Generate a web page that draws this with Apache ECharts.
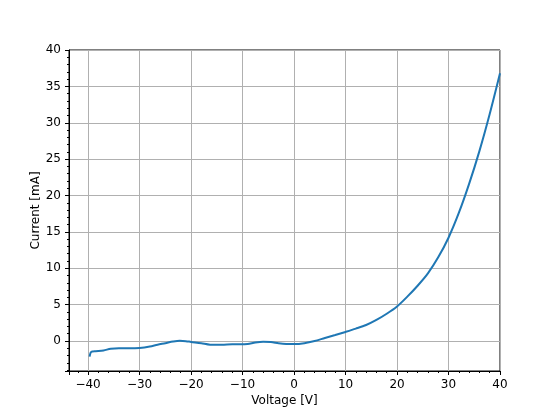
<!DOCTYPE html>
<html>
<head>
<meta charset="utf-8">
<script src="https://cdn.jsdelivr.net/npm/echarts@6/dist/echarts.min.js"></script>
<style>
  html, body { margin: 0; padding: 0; background: #fff; }
  #chart { width: 556px; height: 417px; }
</style>
</head>
<body>
<div id="chart"></div>
<script>
// values
var voltage = [-39.7, -39.5, -39.2, -38.5, -37, -35.6, -34, -32, -30, -28, -26.5, -25, -23.5, -22.2, -21, -20,
  -18, -16.3, -14, -12, -10.4, -9, -7.5, -6, -4.5, -3, -1.5, 0, 2, 4, 6, 8, 10, 12, 14, 16, 18,
  20, 22, 24, 26, 28, 30, 32, 34, 36, 38, 40]
var current = [-2.15, -1.6, -1.45, -1.4, -1.3, -1.05, -1.0, -1.0, -0.95, -0.75, -0.5, -0.3, -0.08, 0.03, -0.02, -0.12,
  -0.3, -0.5, -0.5, -0.45, -0.45, -0.4, -0.2, -0.1, -0.15, -0.3, -0.4, -0.42, -0.3, 0.0, 0.42, 0.82, 1.25, 1.7, 2.2, 2.9, 3.75,
  4.75, 6.1, 7.6, 9.3, 11.5, 14.2, 17.6, 21.6, 26.1, 31.2, 36.8]

var xMin = -43.7, xMax = 40
var yMin = -4.12, yMax = 40

var font = 'DejaVu Sans'
var minus = function (v) { return String(v).replace('-', '\u2212') }

var chart = echarts.init(document.getElementById('chart'), null, { renderer: 'canvas' })

chart.setOption({
  animation: false,
  backgroundColor: '#fff',
  grid: {
    left: 69, right: 56, top: 50, bottom: 46,
    show: true, borderColor: '#000', borderWidth: 1, backgroundColor: 'transparent'
  },
  xAxis: [
    {
      type: 'value', min: xMin, max: xMax, minInterval: 10, maxInterval: 10,
      name: 'Voltage [V]', nameLocation: 'middle', nameGap: 24, nameMoveOverlap: false,
      nameTextStyle: { fontFamily: font, fontSize: 12, color: '#000' },
      axisLine: { onZero: false, lineStyle: { color: '#000', width: 1 } },
      axisTick: { show: true, length: 4, lineStyle: { color: '#000' } },
      axisLabel: {
        margin: 8, fontFamily: font, fontSize: 12, color: '#000',
        formatter: function (v) { return Math.abs(v % 10) < 1e-6 ? minus(v) : '' }
      },
      splitLine: { show: true, lineStyle: { color: '#b0b0b0', width: 1 } }
    },
    {
      // minor ticks every 2
      type: 'value', min: xMin, max: xMax, minInterval: 2, maxInterval: 2, position: 'bottom',
      axisLine: { show: false, onZero: false },
      axisTick: { show: true, length: 2, lineStyle: { color: '#000' } },
      axisLabel: { show: false },
      splitLine: { show: false }
    }
  ],
  yAxis: [
    {
      type: 'value', min: yMin, max: yMax, minInterval: 5, maxInterval: 5,
      name: 'Current [mA]', nameLocation: 'middle', nameGap: 27, nameMoveOverlap: false,
      nameTextStyle: { fontFamily: font, fontSize: 12, color: '#000' },
      axisLine: { show: true, onZero: false, lineStyle: { color: '#000', width: 1 } },
      axisTick: { show: true, length: 4, lineStyle: { color: '#000' } },
      axisLabel: {
        margin: 8, fontFamily: font, fontSize: 12, color: '#000',
        formatter: function (v) { return Math.abs(v % 5) < 1e-6 ? minus(v) : '' }
      },
      splitLine: { show: true, lineStyle: { color: '#b0b0b0', width: 1 } }
    },
    {
      // minor ticks every 1
      type: 'value', min: yMin, max: yMax, minInterval: 1, maxInterval: 1, position: 'left',
      axisLine: { show: false, onZero: false },
      axisTick: { show: true, length: 2, lineStyle: { color: '#000' } },
      axisLabel: { show: false },
      splitLine: { show: false }
    }
  ],
  series: [
    {
      type: 'line',
      xAxisIndex: 0,
      yAxisIndex: 0,
      data: voltage.map(function (v, i) { return [v, current[i]] }),
      showSymbol: false,
      smooth: 0.3,
      lineStyle: { color: '#1f77b4', width: 2 }
    }
  ]
})
</script>
</body>
</html>
